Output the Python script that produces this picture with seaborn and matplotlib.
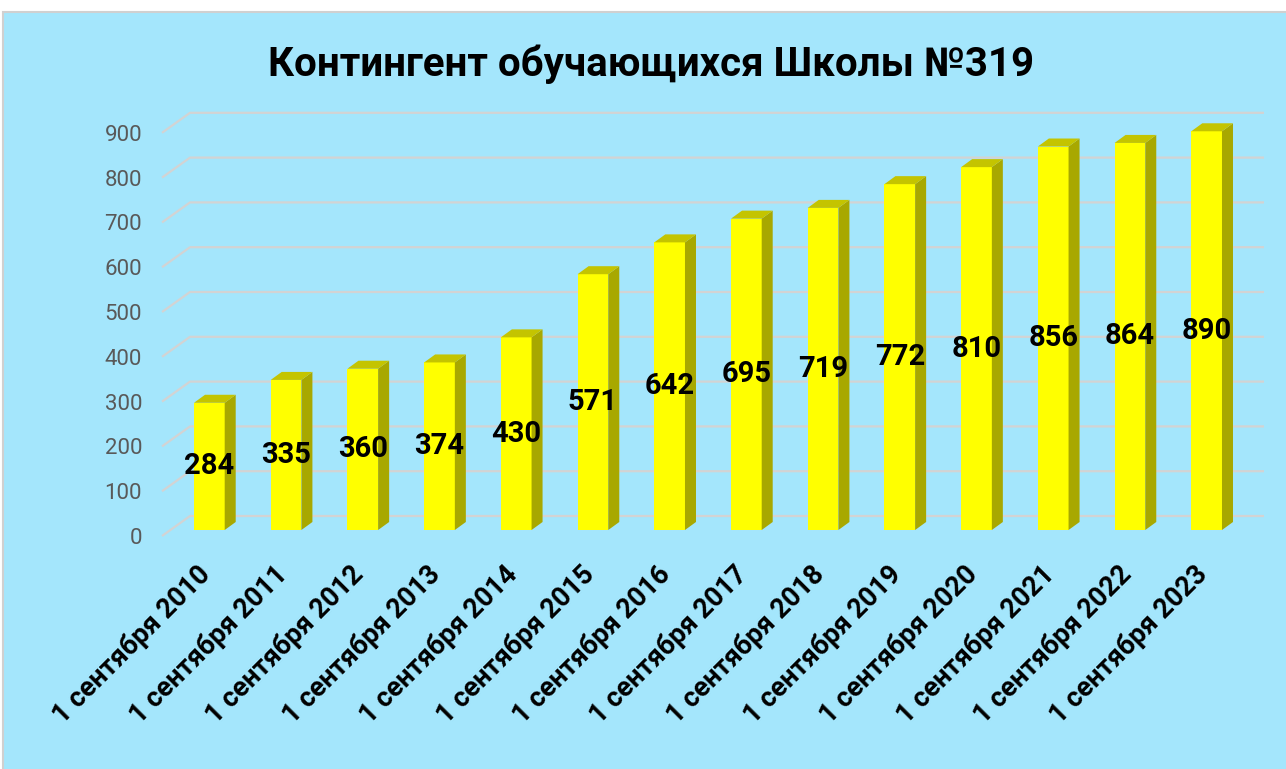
import matplotlib
matplotlib.use("Agg")
import matplotlib.pyplot as plt
from matplotlib.patches import Polygon, Rectangle
from matplotlib.transforms import ScaledTranslation
import pandas as pd
import seaborn as sns

# ---------------------------------------------------------------------------
# Data
# ---------------------------------------------------------------------------
years = [2010, 2011, 2012, 2013, 2014, 2015, 2016,
         2017, 2018, 2019, 2020, 2021, 2022, 2023]
dates = [f"1 сентября {y}" for y in years]
students = [284, 335, 360, 374, 430, 571, 642, 695, 719, 772, 810, 856, 864, 890]
y_ticks = [0, 100, 200, 300, 400, 500, 600, 700, 800, 900]
title = "Контингент обучающихся Школы №319"

BG = "#A4E6FC"
FRONT = "#FFFF00"
SIDE = "#A8A800"
TOP = "#C4C400"
GRID = "#D3D3D3"

sns.set_theme(style="white")
plt.rcParams["font.family"] = ["Roboto", "DejaVu Sans"]

W, H, DPI = 1286, 769, 100
fig = plt.figure(figsize=(W / DPI, H / DPI), dpi=DPI, facecolor="white")
fig.patches.append(Rectangle((3 / W, -0.01), 1.0, 1.01 - 12 / H, transform=fig.transFigure,
                             facecolor=BG, edgecolor="#D0D0D0", lw=1.5, zorder=-10))

# axes placed in pixels: bar base at y=530, x=-0.5..13.5 spans 171..1245
ax_l, ax_r, ax_b, ax_h = 171, 1245, 530, 448
YMAX = 1000
ax = fig.add_axes([ax_l / W, (H - ax_b) / H, (ax_r - ax_l) / W, ax_h / H])
ax.set_facecolor("none")
for s in ax.spines.values():
    s.set_visible(False)

df = pd.DataFrame({"date": dates, "students": students})
sns.barplot(data=df, x="date", y="students", color=FRONT, saturation=1,
            width=0.4, linewidth=0, ax=ax, zorder=3)

n = len(dates)
ax.set_xlim(-0.5, n - 0.5)
ax.set_ylim(0, YMAX)
px_x = (ax_r - ax_l) / n          # pixels per category
px_y = ax_h / YMAX                # pixels per student

# 3D depth of the bars (pixels)
dx, dy = 11 / px_x, 8 / px_y
for p in list(ax.patches):
    x0, w, h = p.get_x(), p.get_width(), p.get_height()
    x1 = x0 + w
    ax.add_patch(Polygon([(x1, 0), (x1 + dx, dy), (x1 + dx, h + dy), (x1, h)],
                         closed=True, facecolor=SIDE, edgecolor="none", zorder=3))
    ax.add_patch(Polygon([(x0, h), (x0 + dx, h + dy), (x1 + dx, h + dy), (x1, h)],
                         closed=True, facecolor=TOP, edgecolor="none", zorder=3))

# perspective gridlines: front edge -> back wall -> right end
fx, fy = -9 / px_x, -6 / px_y
bx, by = 19 / px_x, 14 / px_y
for v in y_ticks:
    ax.plot([-0.5 + fx, -0.5 + bx, n - 0.5 + bx], [v + fy, v + by, v + by],
            color=GRID, lw=1.6, zorder=1, clip_on=False, solid_capstyle="butt")

ax.bar_label(ax.containers[0], label_type="center", fontsize=21,
             fontweight="bold", color="black", zorder=5)

# y tick labels at the front edge
ax.set_yticks(y_ticks)
ax.set_yticklabels([str(v) for v in y_ticks])
ax.tick_params(axis="y", length=0, pad=29 * 0.72, labelsize=16, labelcolor="#595959")
for lab in ax.get_yticklabels():
    lab.set_transform(lab.get_transform() + ScaledTranslation(0, -6 / DPI, fig.dpi_scale_trans))

ax.set_xticks(range(n))
ax.set_xticklabels(dates, rotation=45, ha="right", va="center",
                   rotation_mode="anchor", fontsize=19.5, fontweight="bold")
ax.tick_params(axis="x", length=0, pad=40 * 0.72, labelcolor="black")
for lab in ax.get_xticklabels():
    lab.set_transform(lab.get_transform() + ScaledTranslation(-3 / DPI, 0, fig.dpi_scale_trans))
ax.set_xlabel("")
ax.set_ylabel("")

fig.text((273 + 1030) / 2 / W, 1 - 76 / H, title, ha="center", va="baseline",
         fontsize=29, fontweight="bold", color="black")

fig.savefig("out.png", dpi=DPI, facecolor=fig.get_facecolor())
